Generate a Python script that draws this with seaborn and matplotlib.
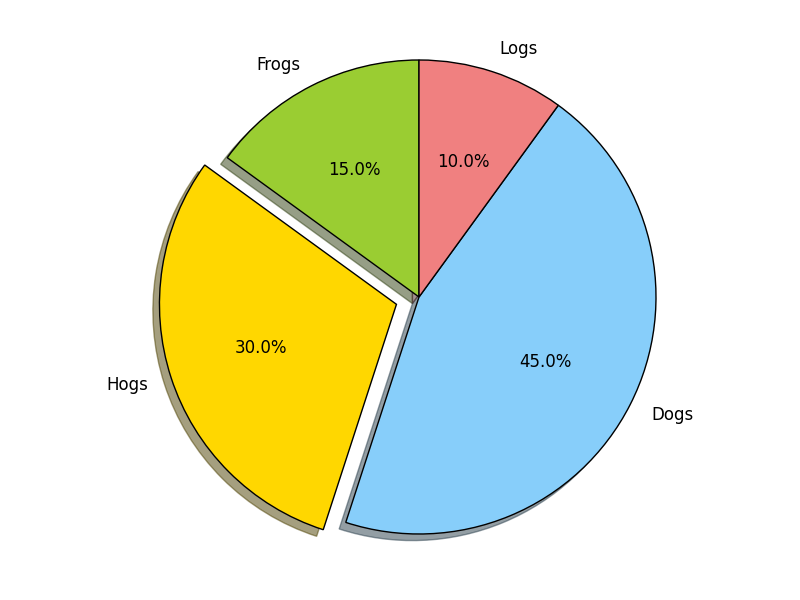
import matplotlib
matplotlib.use('Agg')
import matplotlib.pyplot as plt
import seaborn as sns

labels = ['Frogs', 'Hogs', 'Dogs', 'Logs']
sizes = [15, 30, 45, 10]
colors = ['yellowgreen', 'gold', 'lightskyblue', 'lightcoral']
explode = [0, 0.1, 0, 0]  # only "explode" the 2nd slice (Hogs)

sns.set_style('white')
plt.rcParams['font.family'] = ['DejaVu Sans']
plt.rcParams['text.color'] = 'black'

fig = plt.figure(figsize=(8, 6), dpi=100)
ax = fig.add_axes([0, 0, 1, 1])
ax.pie(sizes, explode=explode, labels=labels, colors=colors,
       autopct='%1.1f%%', shadow=True, startangle=90,
       wedgeprops={'edgecolor': 'black', 'linewidth': 1},
       textprops={'fontsize': 12, 'color': 'black'})

# pie radius ~237 px, centre at (419, 297) px
r = 237.0
ax.set_xlim(-419 / r, 381 / r)
ax.set_ylim(-303 / r, 297 / r)
ax.set_aspect('auto')
ax.axis('off')

fig.savefig('out.png', dpi=100)
